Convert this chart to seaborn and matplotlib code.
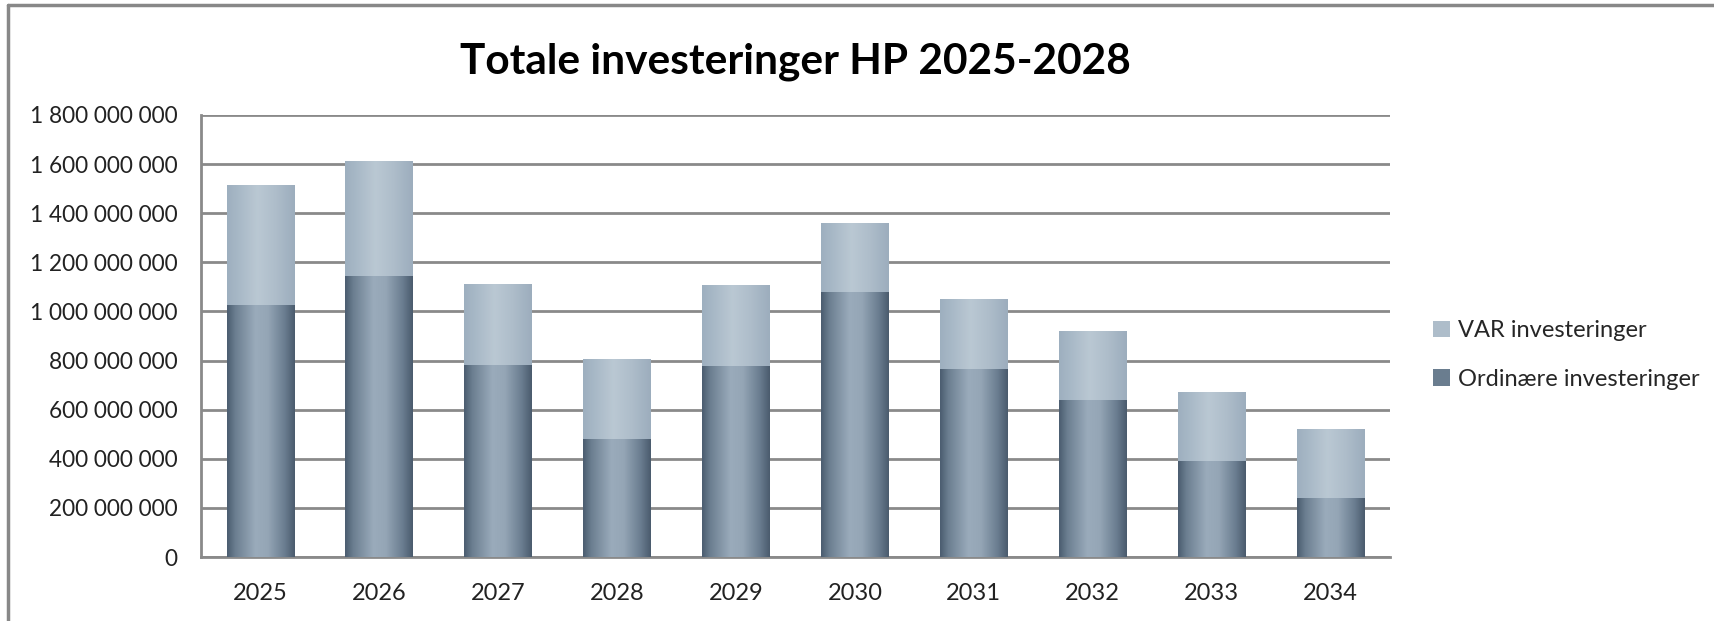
"""
Totale investeringer HP 2025-2028: stablede søyler med gradient
"""
import numpy as np
import pandas as pd
import matplotlib
matplotlib.use('Agg')
import matplotlib.pyplot as plt
from matplotlib.colors import LinearSegmentedColormap
from matplotlib.patches import Patch
from matplotlib.lines import Line2D
from matplotlib.ticker import FuncFormatter
import seaborn as sns

# data (mill. kr, lest av grafen)
years = ['2025', '2026', '2027', '2028', '2029', '2030', '2031', '2032', '2033', '2034']
ordinaere = [1023, 1143, 779, 480, 775, 1076, 764, 637, 389, 237]
var_inv = [490, 468, 330, 326, 331, 283, 284, 282, 281, 284]
yticks = [0, 200, 400, 600, 800, 1000, 1200, 1400, 1600, 1800]

df = pd.DataFrame({'year': years,
                   'ord': np.array(ordinaere) * 1e6,
                   'var': np.array(var_inv) * 1e6})
df['total'] = df['ord'] + df['var']

sns.set_theme(style='white')
plt.rcParams['font.family'] = ['Lato', 'DejaVu Sans']

fig = plt.figure(figsize=(17.14, 6.21), dpi=100)
ax = fig.add_axes([201 / 1714, (621 - 557) / 621, 1189 / 1714, 442 / 621])

sns.barplot(data=df, x='year', y='total', ax=ax, width=0.57, color='#aebdca', zorder=2)
sns.barplot(data=df, x='year', y='ord', ax=ax, width=0.57, color='#6a7d8f', zorder=3)

# gradient (mørk kant, lys midt)
cmap_ord = LinearSegmentedColormap.from_list(
    'ord', [(0, '#4a5c6f'), (0.12, '#6b7e90'), (0.42, '#9aabbb'), (0.6, '#95a6b6'),
            (0.85, '#6a7d90'), (1, '#4a5b6d')])
cmap_var = LinearSegmentedColormap.from_list(
    'var', [(0, '#9dafbf'), (0.45, '#bac8d3'), (0.7, '#afbecb'), (1, '#9cadbd')])
grad = np.linspace(0, 1, 256).reshape(1, -1)
n = len(years)
for i, p in enumerate(ax.patches):
    cmap = cmap_var if i < n else cmap_ord
    x0, w = p.get_x(), p.get_width()
    y0, h = p.get_y(), p.get_height()
    ax.imshow(grad, cmap=cmap, aspect='auto', extent=(x0, x0 + w, y0, y0 + h),
              zorder=p.get_zorder() + 0.1, interpolation='bicubic')
    p.set_facecolor('none')
    p.set_edgecolor('none')

ax.set_xlim(-0.5, n - 0.5)
ax.set_ylim(0, 1.8e9)
ax.set_yticks([v * 1e6 for v in yticks])
ax.yaxis.set_major_formatter(FuncFormatter(lambda v, _: f'{v:,.0f}'.replace(',', ' ')))
ax.grid(True, axis='y', color='#8a8a8a', linewidth=2, zorder=0)
ax.set_axisbelow(True)
ax.set_xlabel('')
ax.set_ylabel('')
for s in ['top', 'right']:
    ax.spines[s].set_visible(False)
for s in ['left', 'bottom']:
    ax.spines[s].set_color('#8a8a8a')
    ax.spines[s].set_linewidth(2)
ax.tick_params(axis='y', length=0, pad=17, labelsize=16.3, labelcolor='#222222')
ax.tick_params(axis='x', length=0, pad=19, labelsize=17, labelcolor='#222222')

ax.set_title('Totale investeringer HP 2025-2028', fontsize=30.5, fontweight='bold',
             color='black', pad=30)

handles = [Patch(facecolor='#aebdca', edgecolor='none', label='VAR investeringer'),
           Patch(facecolor='#6a7d8f', edgecolor='none', label='Ordinære investeringer')]
fig.legend(handles=handles, loc='center left', bbox_to_anchor=(1424 / 1714, 1 - 355 / 621),
           frameon=False, fontsize=17, handlelength=0.7, handleheight=0.7,
           handletextpad=0.35, labelspacing=1.15, borderaxespad=0)

# ytre ramme (bare topp og venstre synlig)
fig.add_artist(Line2D([8 / 1714, 8 / 1714], [0, 1 - 5 / 621], transform=fig.transFigure,
                      color='#888888', linewidth=2.5))
fig.add_artist(Line2D([8 / 1714, 1], [1 - 5 / 621, 1 - 5 / 621], transform=fig.transFigure,
                      color='#888888', linewidth=2.5))

fig.savefig('out.png', dpi=100)
plt.close(fig)
